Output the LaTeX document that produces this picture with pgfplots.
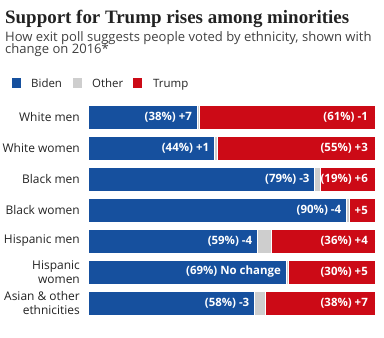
\documentclass[border=0pt]{standalone}
\usepackage{pgfplots}
\pgfplotsset{compat=1.18}
\usepackage{fontspec}
\setmainfont{Open Sans}
\newfontfamily\titlefont{Liberation Serif}
\definecolor{biden}{RGB}{22,80,158}
\definecolor{trump}{RGB}{204,10,22}
\definecolor{other}{RGB}{206,206,206}
\definecolor{txt}{RGB}{34,34,34}
\definecolor{sub}{RGB}{64,64,64}
\pgfplotsset{
  frame/.style={at={(88bp,-101.5bp)}, anchor=north west,
    scale only axis, width=287bp, height=217bp,
    xmin=0, xmax=100, ymin=-0.5, ymax=6.5, y dir=reverse, clip=false},
  barlabel/.style={scatter, only marks, mark=*, mark size=0pt,
    mark options={draw=none, fill=none},
    point meta=explicit symbolic,
    scatter/@pre marker code/.code={\node[anchor=east, inner sep=0pt, text=white,
      font=\bfseries\fontsize{11.5}{12}\selectfont, xshift=#1] {\pgfplotspointmeta};},
    scatter/@post marker code/.code={}},
}
\begin{document}
\begin{tikzpicture}
\useasboundingbox (0,0) rectangle (384bp,-338bp);
\node[anchor=base west, font=\titlefont\bfseries\fontsize{19}{22}\selectfont, text=txt, inner sep=0] at (5bp,-23bp) {Support for Trump rises among minorities};
\node[anchor=base west, font=\fontsize{13.1}{14}\selectfont, text=sub, inner sep=0] at (5bp,-41bp) {How exit poll suggests people voted by ethnicity, shown with};
\node[anchor=base west, font=\fontsize{13.1}{14}\selectfont, text=sub, inner sep=0] at (5bp,-53.5bp) {change on 2016*};
% legend
\fill[biden] (12bp,-78bp) rectangle (21bp,-88bp);
\node[anchor=base west, font=\fontsize{11.5}{12}\selectfont, text=txt, inner sep=0] at (31bp,-87.5bp) {Biden};
\fill[other] (73bp,-78bp) rectangle (82bp,-88bp);
\node[anchor=base west, font=\fontsize{11.5}{12}\selectfont, text=txt, inner sep=0] at (92bp,-87.5bp) {Other};
\fill[trump] (133bp,-78bp) rectangle (142bp,-88bp);
\node[anchor=base west, font=\fontsize{11.5}{12}\selectfont, text=txt, inner sep=0] at (153bp,-87.5bp) {Trump};
\begin{axis}[frame,
  xbar stacked, bar width=24bp,
  axis line style={draw=none}, tick style={draw=none},
  xtick=\empty, ytick={0,1,2,3,4,5,6},
  yticklabels={White men, White women, Black men, Black women, Hispanic men, {Hispanic\\women}, {Asian \& other\\ethnicities}},
  yticklabel style={align=right, font=\fontsize{12}{14}\selectfont, text=txt, inner sep=0pt},
  yticklabel shift=8bp,
]
\addplot[fill=biden, draw=white, line width=1bp] coordinates {
  (38,0) (44,1) (79,2) (90,3) (59,4) (69,5) (58,6)
};
\addplot[fill=other, draw=white, line width=1bp] coordinates {
  (1,0) (1,1) (2,2) (1,3) (5,4) (1,5) (4,6)
};
\addplot[fill=trump, draw=white, line width=1bp] coordinates {
  (61,0) (55,1) (19,2) (9,3) (36,4) (30,5) (38,6)
};
\end{axis}
\begin{axis}[frame, hide axis]
\addplot[barlabel=-5bp] coordinates {
  (38,0) [(38\%) +7]
  (44,1) [(44\%) +1]
  (79,2) [(79\%) -3]
  (90,3) [(90\%) -4]
  (59,4) [(59\%) -4]
  (69,5) [(69\%) No change]
  (58,6) [(58\%) -3]
};
\addplot[barlabel=-7bp] coordinates {
  (100,0) [(61\%) -1]
  (100,1) [(55\%) +3]
  (100,2) [(19\%) +6]
  (100,3) [+5]
  (100,4) [(36\%) +4]
  (100,5) [(30\%) +5]
  (100,6) [(38\%) +7]
};
\end{axis}
\end{tikzpicture}
\end{document}
